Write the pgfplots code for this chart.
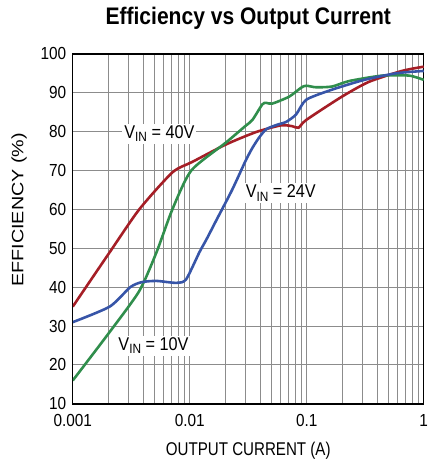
\documentclass[border=0pt]{standalone}
\usepackage{pgfplots}
\pgfplotsset{compat=1.18}
\usepackage{fontspec}
\setmainfont{Liberation Sans}[FakeStretch=0.88]
\newfontfamily\titlefont{Liberation Sans}[FakeStretch=0.88]
\newfontfamily\ylabfont{Liberation Sans}[FakeStretch=1.2]
\newfontfamily\xlabfont{Liberation Sans}[FakeStretch=0.82]
\definecolor{cred}{RGB}{165,30,38}
\definecolor{cgreen}{RGB}{48,142,76}
\definecolor{cblue}{RGB}{55,85,168}
\definecolor{cgrid}{RGB}{140,140,140}
\newcommand{\vin}[1]{V\raisebox{-0.32ex}{\fontsize{13.5}{15}\selectfont IN} = #1}
\begin{document}
\begin{tikzpicture}
\begin{axis}[
  at={(0pt,0pt)}, anchor=south west,
  xmode=log, scale only axis, width=352pt, height=351pt,
  xmin=0.001, xmax=1, ymin=10, ymax=100,
  xtick={0.001,0.01,0.1,1}, xticklabels={0.001,0.01,0.1,1},
  ytick={10,20,...,100}, yticklabels={10,20,30,40,50,60,70,80,90,100},
  minor y tick num=0,
  grid=both,
  major grid style={draw=cgrid, line width=0.9pt},
  minor grid style={draw=cgrid, line width=0.9pt},
  major tick length=0pt, minor tick length=0pt,
  axis line style={black, line width=1.4pt},
  tick label style={font=\fontsize{17.5}{19}\selectfont},
  xticklabel style={yshift=-7pt},
  yticklabel style={xshift=-3pt},
  xlabel={OUTPUT CURRENT (A)}, ylabel={EFFICIENCY (\%)},
  xlabel style={font=\xlabfont\fontsize{18.5}{20}\selectfont, yshift=-9pt},
  ylabel style={font=\ylabfont\fontsize{16.5}{19}\selectfont, yshift=7pt, xshift=19pt},
  every axis plot/.append style={line width=2.6pt, smooth, tension=0.4, no marks},
  clip=true,
]
\addplot[cred] coordinates {
(0.001,35) (0.00207,49) (0.0037,60) (0.0071,69.5) (0.0105,72.2)
(0.0204,76.7) (0.037,79.9) (0.06,81.6) (0.075,81.4) (0.085,81.0) (0.099,83)
(0.2,89) (0.34,92.8) (0.65,95.6) (1,96.7)};
\addplot[cgreen] coordinates {
(0.001,16) (0.00207,28.5) (0.0037,39) (0.0052,49) (0.0071,60) (0.0103,70)
(0.0204,77.2) (0.0295,81.3) (0.0343,83) (0.0417,87) (0.045,87.4) (0.0507,87.2)
(0.0708,89) (0.0895,91.3) (0.099,91.8) (0.12,91.4) (0.165,91.6) (0.23,93)
(0.44,94.4) (0.75,94.4) (1,93.3)};
\addplot[cblue] coordinates {
(0.001,31) (0.00207,35) (0.0031,40) (0.0039,41.3) (0.0052,41.6) (0.0077,41.1)
(0.0093,42) (0.0121,49) (0.0139,52.3) (0.017,57.4) (0.023,65) (0.03,72.5)
(0.0343,75.8) (0.039,78.4) (0.045,80.6) (0.055,81.7) (0.0667,82.5) (0.081,84.4)
(0.099,88.2) (0.165,90.8) (0.31,93.3) (0.58,95) (1,95.6)};
\node[fill=white, inner sep=2pt, font=\fontsize{18.5}{20}\selectfont] at (axis cs:0.0055,79.5) {\vin{40V}};
\node[fill=white, inner sep=2pt, font=\fontsize{18.5}{20}\selectfont] at (axis cs:0.06,64.2) {\vin{24V}};
\node[fill=white, inner sep=2pt, font=\fontsize{18.5}{20}\selectfont] at (axis cs:0.0049,24.9) {\vin{10V}};
\end{axis}
\node[font=\titlefont\fontsize{24}{26}\selectfont\bfseries] at (176pt,387pt) {Efficiency vs Output Current};
\path[use as bounding box] (-73pt,-58pt) rectangle (357pt,405pt);
\end{tikzpicture}
\end{document}
